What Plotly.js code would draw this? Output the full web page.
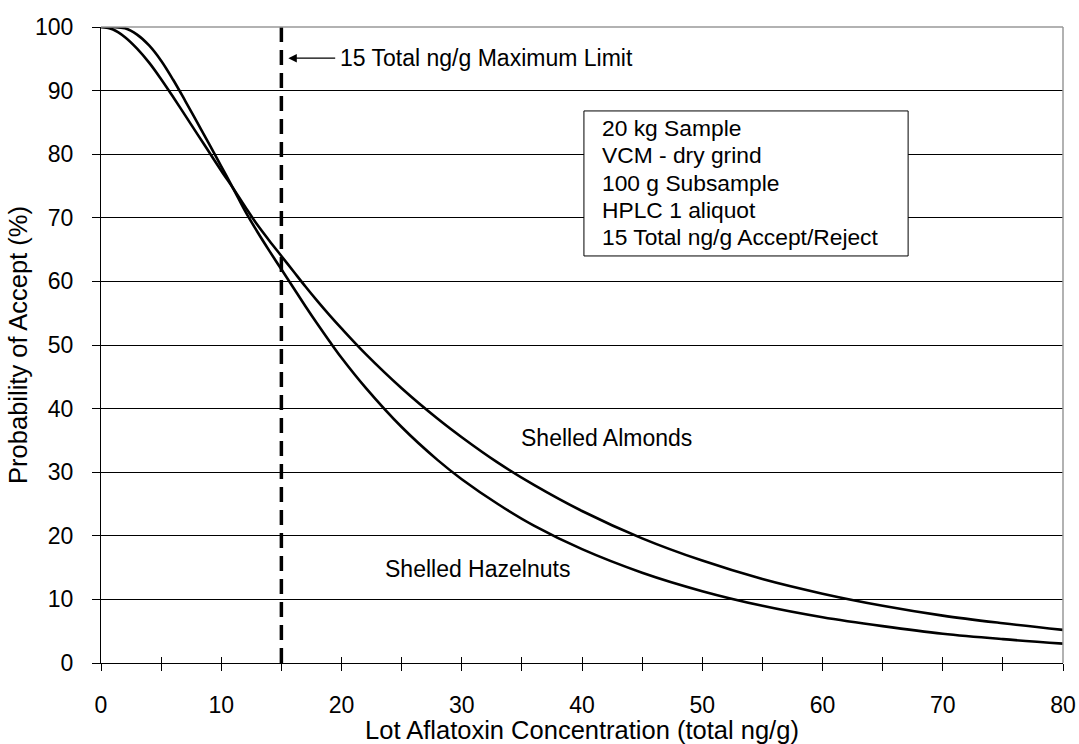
<!DOCTYPE html>
<html>
<head>
<meta charset="utf-8">
<script src="https://cdn.plot.ly/plotly-3.0.1.min.js"></script>
<style>
html,body{margin:0;padding:0;background:#fff;}
#chart{width:1079px;height:744px;}
</style>
</head>
<body>
<div id="chart"></div>
<script>
// Lot aflatoxin concentration (total ng/g)
const concentration = [0,1,2,3,4,5,6,7,8,9,10,11,12,13,14,15,16,17,18,19,20,22,25,28,30,33,36,40,45,50,55,60,65,70,75,80];
// Probability of accept (%)
const almonds   = [100,99.6,98.4,96.6,94.4,91.8,89.0,86.1,83.2,80.3,77.4,74.6,71.7,68.9,66.4,64.0,61.6,59.2,56.9,54.7,52.6,48.6,43.2,38.4,35.5,31.5,28.0,23.9,19.6,16.1,13.2,10.9,9.0,7.45,6.25,5.2];
const hazelnuts = [100,100,99.8,98.8,97.1,94.7,91.7,88.4,85.0,81.6,78.1,74.6,71.0,67.8,64.8,61.9,59.0,56.1,53.3,50.6,48.0,43.3,37.1,31.9,28.9,25.0,21.6,17.9,14.2,11.3,9.0,7.2,5.8,4.6,3.75,3.05];
const limitValue = 15;
const limitRange = [0, 100];
const xTicks = [0,10,20,30,40,50,60,70,80];
const yTicks = [0,10,20,30,40,50,60,70,80,90,100];
const boxLines = ["20 kg Sample","VCM - dry grind","100 g Subsample","HPLC 1 aliquot","15 Total ng/g Accept/Reject"];

const FONT = "Liberation Sans, Arial, sans-serif";

const traces = [
  {x: concentration, y: almonds, mode: "lines", name: "Shelled Almonds",
   line: {color: "#000", width: 2.6, shape: "spline", smoothing: 1}, hoverinfo: "skip"},
  {x: concentration, y: hazelnuts, mode: "lines", name: "Shelled Hazelnuts",
   line: {color: "#000", width: 2.6, shape: "spline", smoothing: 1}, hoverinfo: "skip"},
  {x: [limitValue, limitValue], y: limitRange, mode: "lines", name: "Limit",
   line: {color: "#000", width: 3.5, dash: "15px,8px"}, hoverinfo: "skip"},
  {x: [0, 80], y: [0, 0], xaxis: "x2", yaxis: "y", mode: "lines", line: {color: "rgba(0,0,0,0)", width: 0}, hoverinfo: "skip"}
];

const boxTop = 0.8407, boxStep = 0.0426;
const boxAnnotations = boxLines.map((t, i) => ({
  xref: "paper", yref: "paper", x: 0.519, y: boxTop - i * boxStep, xanchor: "left", yanchor: "middle",
  text: t, showarrow: false, font: {size: 22.8}
}));

const layout = {
  width: 1079, height: 744,
  margin: {l: 101, r: 16, t: 27, b: 81, pad: 0},
  paper_bgcolor: "#fff", plot_bgcolor: "#fff",
  showlegend: false,
  font: {family: FONT, color: "#000", size: 23},
  xaxis: {
    range: [0, 80], tickvals: xTicks, ticks: "outside", ticklen: 7, tickcolor: "#000", tickwidth: 1,
    minor: {dtick: 5, tick0: 0, ticks: "outside", ticklen: 7, tickcolor: "#000", tickwidth: 1, showgrid: false},
    showgrid: false, zeroline: false, showline: true, linecolor: "#000", linewidth: 1,
    tickfont: {size: 23}, ticklabelstandoff: 14,
    title: {text: "Lot Aflatoxin Concentration (total ng/g)", font: {size: 25.5}, standoff: 4}
  },
  xaxis2: {
    range: [0, 80], overlaying: "x", anchor: "y", dtick: 5, tick0: 0, ticks: "inside", ticklen: 6,
    tickcolor: "#000", tickwidth: 1, showticklabels: false, showgrid: false, zeroline: false, showline: false
  },
  yaxis: {
    range: [0, 100], tickvals: yTicks, ticks: "outside", ticklen: 8, tickcolor: "#000", tickwidth: 1,
    showgrid: true, gridcolor: "#000", gridwidth: 1, zeroline: false, showline: true, linecolor: "#000", linewidth: 1,
    tickfont: {size: 23}, ticklabelstandoff: 14,
    title: {text: "Probability of Accept (%)", font: {size: 25.5}, standoff: 0}
  },
  shapes: [
    {type: "line", xref: "paper", yref: "paper", x0: 0, x1: 1, y0: 1, y1: 1, line: {color: "#999", width: 1.5}, layer: "above"},
    {type: "line", xref: "paper", yref: "paper", x0: 1, x1: 1, y0: 0, y1: 1, line: {color: "#999", width: 1.5}, layer: "above"},
    {type: "rect", xref: "paper", yref: "paper", x0: 0.502, x1: 0.839, y0: 0.640, y1: 0.868,
     line: {color: "#000", width: 1}, fillcolor: "#fff", layer: "above"}
  ],
  annotations: boxAnnotations.concat([
    {xref: "paper", yref: "paper", x: 0.2464, y: 0.951, xanchor: "left", yanchor: "middle",
     text: "15 Total ng/g Maximum Limit", showarrow: false, font: {size: 23}},
    {x: 15.58, y: 95.1, ax: 19.6, ay: 95.1, axref: "x", ayref: "y", text: "", showarrow: true,
     arrowhead: 2, arrowsize: 1.3, arrowwidth: 1.3, arrowcolor: "#000", standoff: 0},
    {xref: "paper", yref: "paper", x: 0.4345, y: 0.3538, xanchor: "left", yanchor: "middle",
     text: "Shelled Almonds", showarrow: false, font: {size: 23}},
    {xref: "paper", yref: "paper", x: 0.293, y: 0.148, xanchor: "left", yanchor: "middle",
     text: "Shelled Hazelnuts", showarrow: false, font: {size: 23}}
  ])
};

Plotly.newPlot("chart", traces, layout, {staticPlot: true, displayModeBar: false});
</script>
</body>
</html>
